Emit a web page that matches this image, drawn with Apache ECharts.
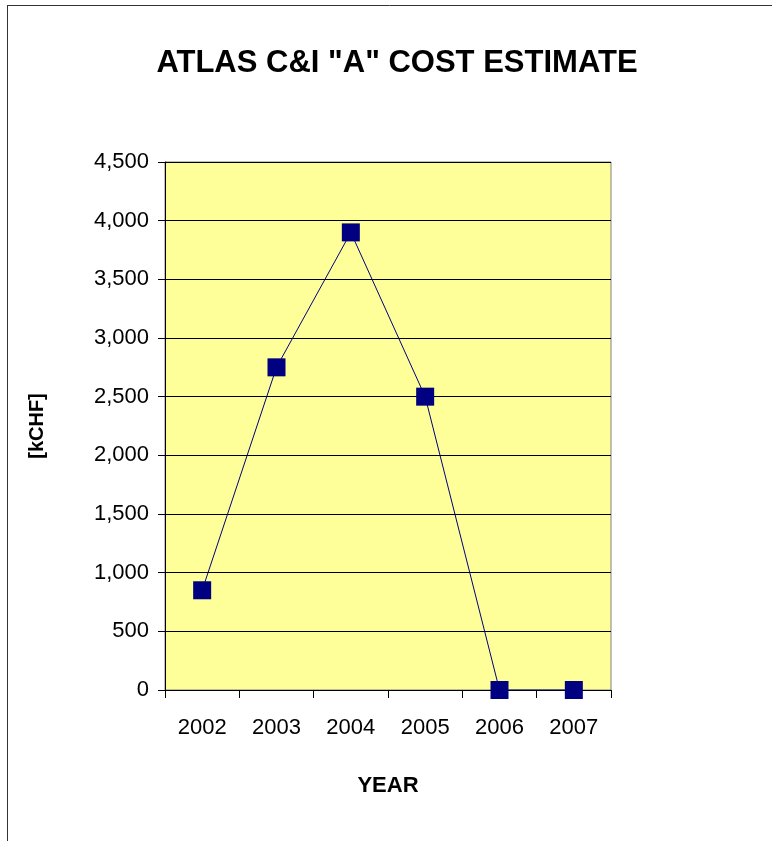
<!DOCTYPE html>
<html>
<head>
<meta charset="utf-8">
<script src="https://cdn.jsdelivr.net/npm/echarts@6/dist/echarts.min.js"></script>
<style>html,body{margin:0;padding:0;background:#fff;}#c{width:772px;height:841px;}</style>
</head>
<body>
<div id="c"></div>
<script>
var years = ['2002', '2003', '2004', '2005', '2006', '2007'];
var costs = [850, 2750, 3900, 2500, 0, 0];
var yMin = 0, yMax = 4500, yStep = 500;

var chart = echarts.init(document.getElementById('c'), null, {renderer: 'canvas'});
chart.setOption({
  backgroundColor: '#ffffff',
  animation: false,
  title: {
    text: 'ATLAS C&I "A" COST ESTIMATE',
    left: 392, top: 43, textAlign: 'center',
    textStyle: {fontFamily: 'Liberation Sans', fontWeight: 'bold', fontSize: 31, color: '#000'}
  },
  graphic: [
    {type: 'line', shape: {x1: 7.5, y1: 5, x2: 7.5, y2: 841}, style: {stroke: '#333', lineWidth: 1}},
    {type: 'line', shape: {x1: 7, y1: 5.5, x2: 772, y2: 5.5}, style: {stroke: '#333', lineWidth: 1}}
  ],
  grid: {
    left: 165, right: 161, top: 162, bottom: 151,
    show: true, backgroundColor: '#FFFF99', borderColor: '#808080', borderWidth: 1
  },
  xAxis: {
    type: 'category', data: years, boundaryGap: true,
    name: 'YEAR', nameLocation: 'middle', nameGap: 85,
    nameTextStyle: {fontFamily: 'Liberation Sans', fontWeight: 'bold', fontSize: 22, color: '#000'},
    axisLine: {lineStyle: {color: '#000', width: 1}},
    axisTick: {show: true, inside: false, length: 8, alignWithLabel: false, lineStyle: {color: '#000'}},
    axisLabel: {margin: 27, fontFamily: 'Liberation Sans', fontSize: 22, color: '#000'},
    splitLine: {show: false}
  },
  yAxis: {
    type: 'value', min: yMin, max: yMax, interval: yStep,
    name: '[kCHF]', nameLocation: 'middle', nameGap: 118, nameRotate: 90,
    nameTextStyle: {fontFamily: 'Liberation Sans', fontWeight: 'bold', fontSize: 20, color: '#000'},
    axisLine: {show: true, lineStyle: {color: '#000', width: 1}},
    axisTick: {show: true, inside: false, length: 7, lineStyle: {color: '#000'}},
    axisLabel: {margin: 16, fontFamily: 'Liberation Sans', fontSize: 22, color: '#000',
      formatter: function (v) { return v.toLocaleString('en-US'); }},
    splitLine: {show: true, lineStyle: {color: '#000', width: 1}}
  },
  series: [{
    type: 'line', data: costs,
    symbol: 'rect', symbolSize: 18,
    itemStyle: {color: '#000080'},
    lineStyle: {color: '#000080', width: 1}
  }]
});
</script>
</body>
</html>
